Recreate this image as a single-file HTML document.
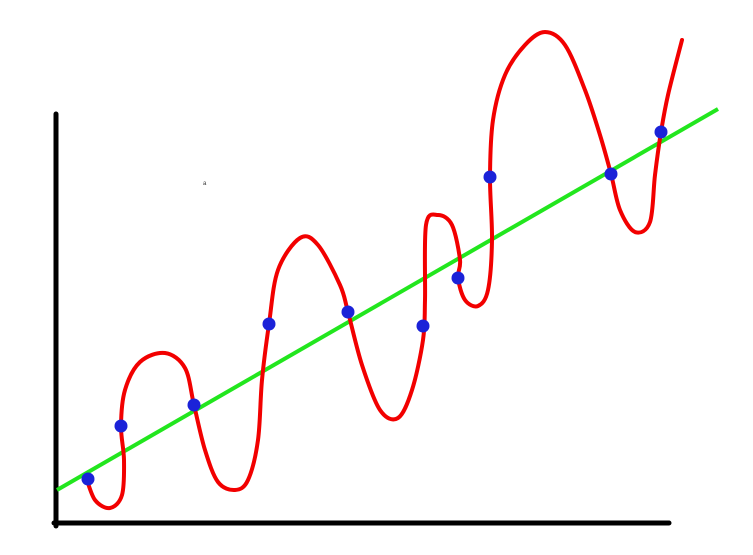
<!DOCTYPE html>
<html><head><meta charset="utf-8"><style>
html,body{margin:0;padding:0;background:#fff;}
svg{display:block;}
</style></head><body>
<svg id="chart" width="753" height="555" viewBox="0 0 753 555" xmlns="http://www.w3.org/2000/svg">
<rect width="753" height="555" fill="#fff"/>
<line x1="56" y1="114" x2="56" y2="526" stroke="#000" stroke-width="5" stroke-linecap="round"/>
<line x1="54" y1="523" x2="669" y2="523" stroke="#000" stroke-width="5" stroke-linecap="round"/>
<text x="203" y="185" font-family="Liberation Sans, sans-serif" font-size="6" fill="#333">a</text>
<g id="marks"></g>
</svg>
<script>
const pointX=[32,65,138,213,292,367,402,434,555,605];
const pointY=[44,97,118,199,211,197,245,346,349,391];
const fitX=[1,662];
const fitY=[33,414];
const curveX=[30,39,54,66,68,65,69,84,109,129,138,149,162,179,192,202,206,213,222,244,262,284,292,306,324,342,356,367,369,370,382,396,404,402,409,422,432,436,434,437,449,469,489,509,529,544,555,564,579,594,599,605,612,626];
const curveY=[46,23,15,28,63,97,133,161,170,155,118,73,41,33,43,83,143,199,253,285,278,238,211,158,113,105,133,183,223,298,308,298,263,245,223,217,233,283,346,403,448,478,491,478,433,388,349,313,291,301,348,391,428,483];
function xScale(v){return 56+v;}
function yScale(v){return 523-v;}
const NS='http://www.w3.org/2000/svg';
const g=document.getElementById('marks');
// red overfit curve (Catmull-Rom)
const P=curveX.map((x,i)=>[xScale(x),yScale(curveY[i])]);
let d='M'+P[0][0]+','+P[0][1];
for(let i=0;i<P.length-1;i++){
  const p0=P[i-1]||P[i],p1=P[i],p2=P[i+1],p3=P[i+2]||P[i+1];
  const c1=[p1[0]+(p2[0]-p0[0])/6,p1[1]+(p2[1]-p0[1])/6];
  const c2=[p2[0]-(p3[0]-p1[0])/6,p2[1]-(p3[1]-p1[1])/6];
  d+=` C${c1[0]},${c1[1]} ${c2[0]},${c2[1]} ${p2[0]},${p2[1]}`;
}
const line=document.createElementNS(NS,'line');
line.setAttribute('x1',xScale(fitX[0]));line.setAttribute('y1',yScale(fitY[0]));
line.setAttribute('x2',xScale(fitX[1]));line.setAttribute('y2',yScale(fitY[1]));
line.setAttribute('stroke','#22e61e');line.setAttribute('stroke-width','4');


g.appendChild(line);
const path=document.createElementNS(NS,'path');
path.setAttribute('d',d);path.setAttribute('fill','none');path.setAttribute('stroke','#f20000');
path.setAttribute('stroke-width','4');path.setAttribute('stroke-linecap','round');path.setAttribute('stroke-linejoin','round');


g.appendChild(path);
pointX.forEach((x,i)=>{
  const c=document.createElementNS(NS,'circle');
  c.setAttribute('cx',xScale(x));c.setAttribute('cy',yScale(pointY[i]));c.setAttribute('r','6.5');
  c.setAttribute('fill','#1b22d8');
  
  
  g.appendChild(c);
});
</script>
</body></html>
